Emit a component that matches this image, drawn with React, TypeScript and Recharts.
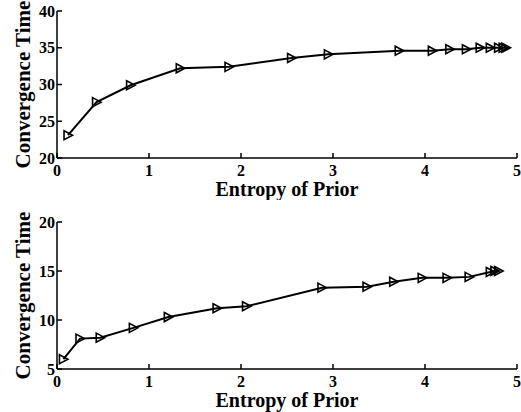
import { CartesianGrid, Line, LineChart, XAxis, YAxis } from "recharts";

const xTicks = [0, 1, 2, 3, 4, 5];

const topEntropy = [0.12, 0.43, 0.8, 1.34, 1.87, 2.55, 2.95, 3.72, 4.08, 4.27, 4.45, 4.6, 4.71, 4.8, 4.85, 4.88];
const topTime = [23.1, 27.6, 29.9, 32.2, 32.4, 33.6, 34.1, 34.6, 34.6, 34.8, 34.8, 35.0, 35.0, 35.0, 35.0, 35.0];
const topYTicks = [20, 25, 30, 35, 40];

const botEntropy = [0.07, 0.25, 0.47, 0.83, 1.21, 1.74, 2.06, 2.88, 3.37, 3.66, 3.97, 4.24, 4.48, 4.71, 4.76, 4.8];
const botTime = [6.0, 8.1, 8.2, 9.2, 10.3, 11.2, 11.4, 13.3, 13.4, 13.9, 14.3, 14.3, 14.4, 14.9, 15.0, 15.0];
const botYTicks = [5, 10, 15, 20];

const FONT = '"Liberation Serif", "Times New Roman", serif';
const xLabelStyle = { fontFamily: FONT, fontWeight: 700, fontSize: 20, fill: "#000" };
const yLabelStyle = { fontFamily: FONT, fontWeight: 700, fontSize: 21, fill: "#000", textAnchor: "middle" };

// bold tick labels, drawn explicitly so the weight sticks
function XTick({ x, y, payload }: any) {
  return (
    <text x={x} y={y} dy="0.71em" textAnchor="middle" fontFamily={FONT} fontWeight="bold" fontSize={16} fill="#000">
      {payload.value}
    </text>
  );
}

function YTick({ x, y, payload }: any) {
  return (
    <text x={x} y={y} dy="0.355em" textAnchor="end" fontFamily={FONT} fontWeight="bold" fontSize={16} fill="#000">
      {payload.value}
    </text>
  );
}

// Matlab-style open right-pointing triangle
function Tri(props: any) {
  const { cx, cy } = props;
  if (cx == null || cy == null) return null;
  return (
    <path
      d={`M${cx - 4},${cy - 4.5} L${cx + 4.5},${cy} L${cx - 4},${cy + 4.5} Z`}
      fill="none"
      stroke="#000"
      strokeWidth={1.6}
    />
  );
}

type PanelProps = {
  xs: number[];
  ys: number[];
  yTicks: number[];
  height: number;
  top: number;
  xAxisHeight: number;
  labelOffset: number;
};

function Panel({ xs, ys, yTicks, height, top, xAxisHeight, labelOffset }: PanelProps) {
  const data = xs.map((x, i) => ({ x, y: ys[i] }));
  const yDomain = [yTicks[0], yTicks[yTicks.length - 1]];
  const blank = () => "";
  return (
    <LineChart width={521} height={height} data={data} margin={{ top, right: 4, bottom: 0, left: 0 }}>
      <CartesianGrid stroke="none" />
      <XAxis
        dataKey="x"
        type="number"
        domain={[0, 5]}
        ticks={xTicks}
        tickSize={-5}
        tickMargin={12}
        height={xAxisHeight}
        stroke="#000"
        strokeWidth={1.5}
        tick={<XTick />}
        label={{ value: "Entropy of Prior", position: "insideBottom", offset: labelOffset, style: xLabelStyle }}
      />
      <XAxis
        xAxisId="top"
        orientation="top"
        dataKey="x"
        type="number"
        domain={[0, 5]}
        ticks={xTicks}
        tickSize={-5}
        height={0}
        stroke="#000"
        strokeWidth={1.5}
        tickFormatter={blank}
      />
      <YAxis
        type="number"
        domain={yDomain}
        ticks={yTicks}
        tickSize={-5}
        tickMargin={7}
        width={57}
        stroke="#000"
        strokeWidth={1.5}
        tick={<YTick />}
        label={{
          value: "Convergence Time",
          angle: -90,
          position: "insideLeft",
          offset: 23,
          style: yLabelStyle,
        }}
      />
      <YAxis
        yAxisId="right"
        orientation="right"
        type="number"
        domain={yDomain}
        ticks={yTicks}
        tickSize={-5}
        width={0}
        stroke="#000"
        strokeWidth={1.5}
        tickFormatter={blank}
      />
      <Line
        dataKey="y"
        stroke="#000"
        strokeWidth={2}
        dot={<Tri />}
        activeDot={false}
        isAnimationActive={false}
      />
    </LineChart>
  );
}

export default function App() {
  return (
    <div
      style={{
        position: "absolute",
        left: 0,
        top: 0,
        width: 521,
        height: 412,
        background: "#fff",
        fontFamily: FONT,
        fontWeight: 700,
      }}
    >
      <Panel xs={topEntropy} ys={topTime} yTicks={topYTicks} height={200} top={11} xAxisHeight={42} labelOffset={4} />
      <Panel xs={botEntropy} ys={botTime} yTicks={botYTicks} height={212} top={22} xAxisHeight={43} labelOffset={5} />
    </div>
  );
}
